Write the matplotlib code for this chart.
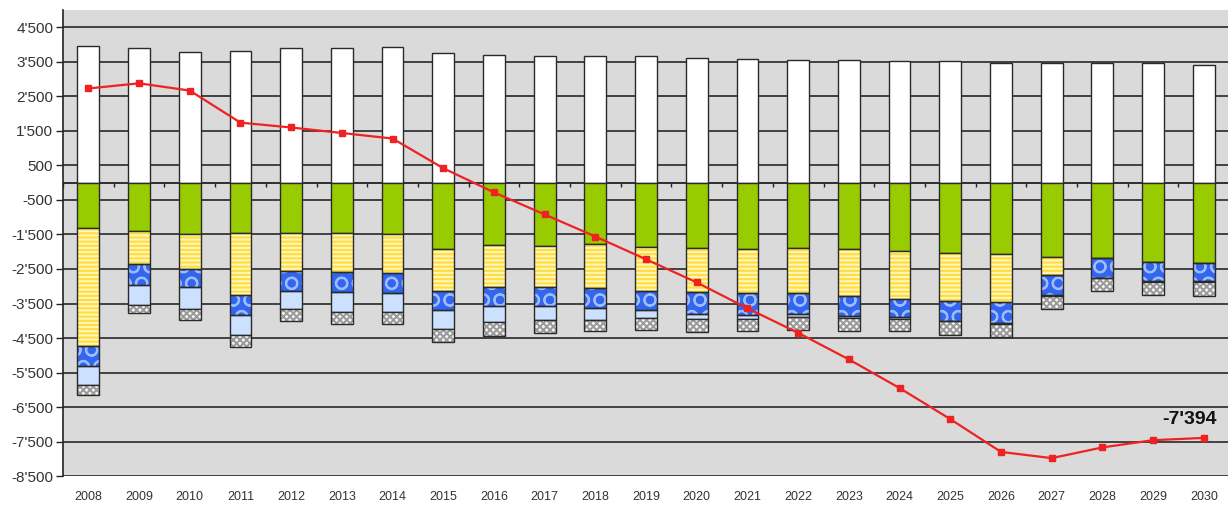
import matplotlib.pyplot as plt
import numpy as np
from matplotlib.ticker import FixedLocator, FuncFormatter

plt.rcParams['font.family'] = ['Liberation Sans', 'DejaVu Sans']
plt.rcParams['hatch.linewidth'] = 1.4

years = [str(y) for y in range(2008, 2031)]

# positive column (white)
income = [3950, 3900, 3790, 3830, 3910, 3900, 3930, 3770, 3710, 3660, 3670, 3660,
          3620, 3590, 3560, 3550, 3530, 3530, 3470, 3470, 3470, 3460, 3400]

# negative stack, magnitudes from 0 downwards
green = [1320, 1410, 1490, 1450, 1450, 1450, 1490, 1930, 1800, 1820, 1770, 1850,
         1890, 1910, 1890, 1930, 1970, 2030, 2080, 2140, 2170, 2290, 2330]
yellow = [3400, 950, 1020, 1790, 1120, 1130, 1130, 1200, 1210, 1190, 1290, 1280,
          1290, 1290, 1310, 1350, 1400, 1390, 1390, 540, 0, 0, 0]
blue = [580, 590, 520, 600, 580, 600, 580, 550, 560, 560, 560, 550,
        620, 620, 600, 580, 530, 580, 600, 580, 580, 560, 530]
light = [560, 580, 630, 560, 520, 560, 560, 560, 480, 400, 360, 230,
         140, 130, 100, 70, 50, 20, 20, 20, 20, 20, 20]
check = [290, 250, 310, 350, 350, 350, 330, 370, 380, 380, 330, 355,
         380, 360, 380, 380, 360, 390, 390, 380, 360, 380, 390]

balance = [2730, 2880, 2670, 1740, 1600, 1440, 1280, 420, -280, -920, -1560, -2220,
           -2890, -3640, -4350, -5120, -5950, -6850, -7800, -7980, -7670, -7460, -7394]

x = np.arange(len(years))
w = 0.43
edge = '#2a2a2a'

fig = plt.figure(figsize=(12.28, 5.07), dpi=100)
ax = fig.add_axes([0.0513, 0.061, 0.9487 + 0.003, 0.919])
ax.set_facecolor('#dadada')

# white positive bars
ax.bar(x, income, w, color='white', edgecolor=edge, linewidth=1.0, zorder=2)

# negative stacked segments: (values, face, hatch colour, hatch)
segments = [
    (green, '#99cc00', None, None),
    (yellow, '#ffde40', '#fff6c0', '----'),
    (blue, '#3366ee', '#9dbcff', 'O'),
    (light, '#cce0ff', None, None),
    (check, '#f4f4f4', '#999999', 'xxxxx'),
]
bottom = np.zeros(len(years))
for vals, face, hcol, hatch in segments:
    h = -np.array(vals, dtype=float)
    if hatch:
        ax.bar(x, h, w, bottom=bottom, color=face, edgecolor=hcol,
               hatch=hatch, linewidth=0, zorder=2)
        ax.bar(x, h, w, bottom=bottom, fill=False, edgecolor=edge,
               linewidth=1.0, zorder=2.1)
    else:
        ax.bar(x, h, w, bottom=bottom, color=face, edgecolor=edge,
               linewidth=1.0, zorder=2)
    bottom = bottom + h

# balance line
ax.plot(x, balance, color='#ee2222', linewidth=1.6, marker='s',
        markersize=4.5, zorder=4)
ax.annotate("-7'394", xy=(x[-1], balance[-1]), xytext=(-10, 13),
            textcoords='offset points', ha='center', va='center',
            fontsize=14, fontweight='bold', color='#111111', zorder=5)

# zero axis with category separators
ax.axhline(0, color='#222222', linewidth=1.3, zorder=1.5)
ax.vlines(np.arange(len(years) + 1) - 0.5, 0, -110, color='#222222',
          linewidth=1.0, zorder=1.5)

ax.set_xlim(-0.5, len(years) - 0.45)
ax.set_ylim(-8500, 5000)

yt = np.arange(-8500, 4501, 1000)
ax.yaxis.set_major_locator(FixedLocator(yt))
ax.yaxis.set_major_formatter(FuncFormatter(lambda v, p: f"{v:,.0f}".replace(',', "'")))
ax.grid(axis='y', color='#363636', linewidth=1.3, zorder=0)
ax.set_axisbelow(True)

ax.set_xticks(x)
ax.set_xticklabels(years)
ax.tick_params(axis='x', length=0, pad=11, labelsize=9, labelcolor='#333333')
ax.tick_params(axis='y', length=5, width=1.0, pad=2, labelsize=11,
               labelcolor='#333333', color='#222222')

for s in ['top', 'right', 'bottom']:
    ax.spines[s].set_visible(False)
ax.spines['left'].set_color('#222222')
ax.spines['left'].set_linewidth(1.2)

fig.savefig('out.png', dpi=100)
